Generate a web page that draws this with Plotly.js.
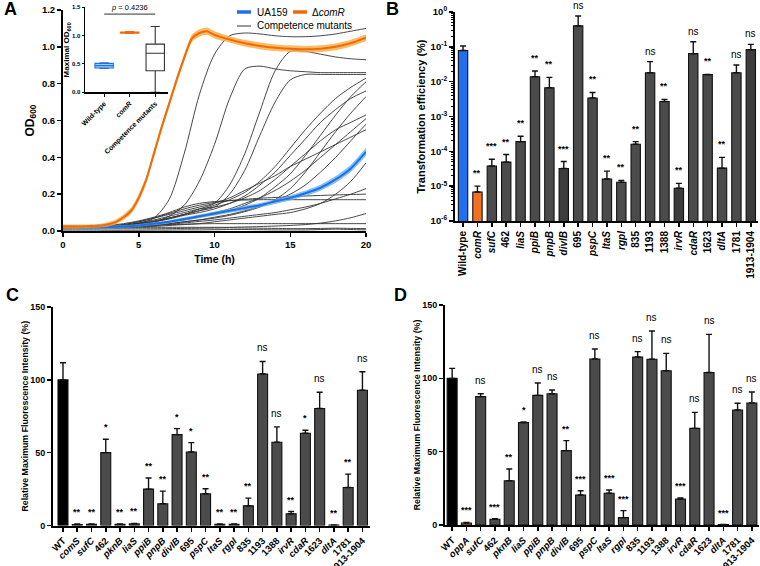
<!DOCTYPE html>
<html><head><meta charset="utf-8">
<script src="https://cdn.plot.ly/plotly-3.0.1.min.js"></script>
<style>html,body{margin:0;padding:0;background:#fff}#chart{width:760px;height:566px}</style>
</head><body><div id="chart"></div>
<script>
// ================= DATA =================
// ---- Panel A: growth curves ----
const timeHours = [0,1,2,3,4,5,6,7,8,9,10,11,12,13,14,15,16,17,18,19,20];
const mutant01 = [0.02,0.02,0.02,0.025,0.03,0.04,0.07,0.17,0.42,0.74,0.96,1.06,1.075,1.07,1.06,1.055,1.055,1.06,1.07,1.085,1.1];
const mutant02 = [0.02,0.02,0.02,0.025,0.03,0.04,0.05,0.08,0.14,0.27,0.47,0.72,0.88,0.895,0.88,0.87,0.865,0.86,0.86,0.86,0.86];
const mutant03 = [0.02,0.02,0.02,0.025,0.03,0.04,0.05,0.07,0.09,0.12,0.15,0.25,0.42,0.65,0.87,0.975,0.975,0.96,0.945,0.935,0.93];
const mutant04 = [0.02,0.02,0.02,0.025,0.03,0.04,0.05,0.07,0.09,0.11,0.13,0.2,0.33,0.52,0.7,0.82,0.85,0.85,0.85,0.85,0.85];
const mutant05 = [0.02,0.02,0.02,0.025,0.03,0.04,0.055,0.07,0.09,0.11,0.14,0.17,0.21,0.27,0.35,0.45,0.55,0.64,0.72,0.78,0.83];
const mutant06 = [0.02,0.02,0.02,0.022,0.025,0.03,0.04,0.05,0.06,0.075,0.09,0.11,0.14,0.18,0.24,0.31,0.41,0.52,0.63,0.73,0.81];
const mutant07 = [0.02,0.02,0.02,0.025,0.03,0.04,0.05,0.065,0.085,0.1,0.12,0.15,0.19,0.25,0.32,0.41,0.5,0.59,0.66,0.72,0.76];
const mutant08 = [0.02,0.02,0.02,0.02,0.022,0.025,0.03,0.04,0.05,0.06,0.07,0.085,0.105,0.13,0.17,0.23,0.32,0.43,0.54,0.64,0.73];
const mutant09 = [0.02,0.02,0.02,0.025,0.03,0.045,0.06,0.08,0.1,0.12,0.13,0.15,0.18,0.22,0.28,0.35,0.42,0.49,0.55,0.59,0.63];
const mutant10 = [0.02,0.02,0.02,0.022,0.026,0.032,0.04,0.05,0.065,0.08,0.1,0.12,0.15,0.18,0.22,0.27,0.33,0.4,0.47,0.54,0.61];
const mutant11 = [0.02,0.02,0.02,0.02,0.022,0.026,0.032,0.04,0.05,0.06,0.075,0.09,0.11,0.135,0.165,0.2,0.25,0.32,0.4,0.49,0.58];
const mutant12 = [0.02,0.02,0.02,0.025,0.035,0.05,0.07,0.09,0.11,0.13,0.15,0.18,0.22,0.26,0.3,0.35,0.39,0.43,0.47,0.51,0.55];
const mutant13 = [0.02,0.02,0.02,0.02,0.02,0.022,0.025,0.03,0.035,0.04,0.05,0.06,0.07,0.08,0.09,0.1,0.12,0.15,0.2,0.27,0.37];
const mutant14 = [0.02,0.02,0.02,0.02,0.022,0.025,0.03,0.036,0.044,0.052,0.06,0.07,0.08,0.09,0.1,0.115,0.13,0.15,0.175,0.2,0.23];
const mutant15 = [0.02,0.02,0.02,0.025,0.035,0.05,0.07,0.095,0.12,0.14,0.155,0.165,0.172,0.178,0.182,0.186,0.19,0.193,0.196,0.198,0.2];
const mutant16 = [0.02,0.02,0.022,0.03,0.04,0.055,0.075,0.1,0.13,0.15,0.16,0.165,0.168,0.17,0.17,0.17,0.17,0.17,0.17,0.17,0.17];
const mutant17 = [0.02,0.02,0.02,0.02,0.02,0.02,0.02,0.02,0.02,0.02,0.02,0.02,0.022,0.024,0.027,0.03,0.035,0.043,0.055,0.072,0.095];
const mutant18 = [0.02,0.02,0.02,0.022,0.025,0.028,0.031,0.034,0.037,0.039,0.04,0.04,0.04,0.04,0.04,0.04,0.04,0.04,0.04,0.04,0.04];
const mutant19 = [0.005,0.005,0.005,0.004,0.004,0.004,0.005,0.005,0.006,0.006,0.007,0.008,0.008,0.007,0.006,0.006,0.006,0.008,0.01,0.008,0.006];
const mutant20 = [0.012,0.012,0.012,0.012,0.012,0.012,0.012,0.013,0.014,0.015,0.016,0.017,0.016,0.015,0.014,0.013,0.013,0.014,0.015,0.014,0.013];
const ua159Mean = [0.025,0.022,0.02,0.022,0.025,0.03,0.04,0.05,0.065,0.08,0.095,0.11,0.125,0.14,0.16,0.18,0.205,0.235,0.28,0.34,0.43];
const ua159SD   = [0.008,0.008,0.008,0.008,0.008,0.008,0.009,0.009,0.01,0.01,0.011,0.011,0.012,0.012,0.013,0.014,0.015,0.016,0.018,0.02,0.022];
const timeComR  = [0,1,2,2.5,3,3.5,4,4.5,5,5.5,6,6.5,7,7.5,8,8.5,9,9.5,10,11,12,13,14,15,16,17,18,19,20];
const comRMean  = [0.025,0.025,0.027,0.03,0.037,0.05,0.075,0.11,0.18,0.28,0.42,0.56,0.69,0.82,0.94,1.045,1.075,1.085,1.065,1.04,1.02,1.005,0.995,0.99,0.987,0.99,1.0,1.02,1.05];
const comRSD    = [0.01,0.01,0.01,0.01,0.012,0.013,0.015,0.017,0.02,0.02,0.02,0.02,0.02,0.02,0.02,0.02,0.02,0.02,0.02,0.018,0.018,0.018,0.018,0.018,0.018,0.018,0.018,0.018,0.018];

// ---- Panel A inset: maximal OD600 ----
const insetGroups = ['Wild-type','comR','Competence mutants'];
const insetQ1     = [0.43, 1.045, 0.38];
const insetMedian = [0.47, 1.055, 0.69];
const insetQ3     = [0.51, 1.065, 0.85];
const insetLow    = [0.42, 1.04, 0.0];
const insetHigh   = [0.52, 1.07, 1.16];
const insetPText  = '<i>p</i> = 0.4236';

// ---- Panel B: transformation efficiency (%) ----
const bCategories = ['Wild-type','comR','sufC','462','liaS','ppiB','pnpB','divIB','695','pspC','ltaS','rgpI','835','1193','1388','irvR','cdaR','1623','dltA','1781','1913-1904'];
const bValues = [0.0785,6.8e-6,3.8e-5,4.9e-5,1.9e-4,0.0139,0.0067,3.2e-5,0.40,0.0034,1.6e-5,1.29e-5,1.6e-4,0.018,0.0027,8.7e-6,0.064,0.0159,3.3e-5,0.018,0.083];
const bErrTop = [0.106,1.0e-5,5.9e-5,8.1e-5,2.7e-4,0.0203,0.0133,5.1e-5,0.77,0.0049,2.7e-5,1.47e-5,1.9e-4,0.0375,0.0031,1.2e-5,0.14,0.0162,6.7e-5,0.030,0.118];
const bSig = ['','**','***','**','**','**','**','***','ns','**','**','**','**','ns','**','**','ns','**','**','ns','ns'];

// ---- Panel C ----
const cCategories = ['WT','comS','sufC','462','pknB','liaS','ppiB','pnpB','divIB','695','pspC','ltaS','rgpI','835','1193','1388','irvR','cdaR','1623','dltA','1781','1913-1904'];
const cValues = [100,0.7,0.8,50,0.8,1.1,25,14.9,62.4,50.5,21.8,0.8,0.8,13.5,104,57.1,8.0,63.3,80.3,0.3,26.1,92.9];
const cErrTop = [111.7,1.0,1.0,59.2,1.0,1.4,32.6,23.6,66.5,56.9,25.2,1.1,1.1,18.8,112.6,67.7,9.6,65.4,91.5,0.3,35.3,105.5];
const cSig = ['','**','**','*','**','**','**','**','*','*','**','**','**','**','ns','ns','**','*','ns','**','**','ns'];

// ---- Panel D ----
const dCategories = ['WT','oppA','sufC','462','pknB','liaS','ppiB','pnpB','divIB','695','pspC','ltaS','rgpI','835','1193','1388','irvR','cdaR','1623','dltA','1781','1913-1904'];
const dValues = [100,1.4,87.5,3.9,30.2,69.8,88.4,89.5,50.7,20.5,113.2,21.6,5.0,114.5,113,105.2,17.7,65.9,104,0.3,78.4,83.2];
const dErrTop = [106.8,1.8,89.5,4.3,38.2,70.2,96.8,92,57.5,23.4,120,23.9,9.8,118.2,132.3,117,18.4,76.8,130,0.3,83,90.7];
const dSig = ['','***','ns','***','**','*','ns','ns','**','***','ns','***','***','ns','ns','ns','***','ns','ns','***','ns','ns'];

// ================= STYLE / LAYOUT =================
const W = 760, H = 566;
const F = 'Liberation Sans, Arial, Helvetica, sans-serif';
const px = x => x / W;
const py = y => 1 - y / H;
const dx = (a, b) => [a / W, b / W];
const dy = (top, bottom) => [1 - bottom / H, 1 - top / H];
const fmt = s => /^[a-z]/.test(s) ? '<i>' + s + '</i>' : s;

const GRAY = '#333333', BLUE = '#1f6fe6', BLUE_BAND = 'rgba(90,175,240,0.75)';
const ORANGE = '#f06a0c', ORANGE_BAND = 'rgba(250,170,60,0.8)';

const grayCurves = [mutant01,mutant02,mutant03,mutant04,mutant05,mutant06,mutant07,mutant08,mutant09,mutant10,
  mutant11,mutant12,mutant13,mutant14,mutant15,mutant16,mutant17,mutant18,mutant19,mutant20];

const traces = [];
grayCurves.forEach(c => traces.push({
  type:'scatter', mode:'lines', x: timeHours, y: c, xaxis:'x', yaxis:'y',
  line:{color:GRAY, width:0.9, shape:'spline', smoothing:0.8}, showlegend:false, hoverinfo:'skip'
}));
function band(t, m, s, fill, lineColor) {
  traces.push({type:'scatter', mode:'lines', x:t, y:m.map((v,i)=>v - s[i]), xaxis:'x', yaxis:'y',
    line:{width:0, color:fill, shape:'spline', smoothing:0.6}, showlegend:false, hoverinfo:'skip'});
  traces.push({type:'scatter', mode:'lines', x:t, y:m.map((v,i)=>v + s[i]), xaxis:'x', yaxis:'y',
    fill:'tonexty', fillcolor:fill, line:{width:0, color:fill, shape:'spline', smoothing:0.6}, showlegend:false, hoverinfo:'skip'});
  traces.push({type:'scatter', mode:'lines', x:t, y:m, xaxis:'x', yaxis:'y',
    line:{width:2, color:lineColor, shape:'spline', smoothing:0.6}, showlegend:false, hoverinfo:'skip'});
}
band(timeHours, ua159Mean, ua159SD, BLUE_BAND, BLUE);
band(timeComR, comRMean, comRSD, ORANGE_BAND, ORANGE);

// inset boxes
const insetFill = ['#9fcdf6', '#f7a25a', '#ffffff'];
const insetLine = [BLUE, ORANGE, '#333333'];
insetGroups.forEach((g, i) => traces.push({
  type:'box', x:[g], q1:[insetQ1[i]], median:[insetMedian[i]], q3:[insetQ3[i]],
  lowerfence:[insetLow[i]], upperfence:[insetHigh[i]], xaxis:'x2', yaxis:'y2',
  fillcolor: insetFill[i], line:{color: insetLine[i], width:1.1}, width:0.72, whiskerwidth:0.5,
  boxpoints:false, showlegend:false, hoverinfo:'skip'
}));

// bar helper
function barColor(cat, panel) {
  if (cat === 'Wild-type') return '#1f6ff0';
  if (cat === 'WT') return '#000000';
  if (cat === 'comR') return '#f36f21';
  if (cat === 'comS') return '#6e3a22';
  if (cat === 'oppA') return '#c8733a';
  if (panel === 'B' && (cat === 'divIB' || cat === 'irvR' || cat === '1913-1904')) return '#3c3c3c';
  return '#4b4b4b';
}
function barTrace(cats, vals, tops, xa, ya, panel, width) {
  return {
    type:'bar', x: cats.map((c,i)=>i), y: vals, xaxis:xa, yaxis:ya, width: width,
    marker:{color: cats.map(c=>barColor(c, panel)), line:{color:'#111', width:1.1}},
    error_y:{type:'data', symmetric:false, array: tops.map((t,i)=>Math.max(0, t - vals[i])),
      arrayminus: vals.map(()=>0), color:'#111', thickness:1.4, width:3},
    showlegend:false, hoverinfo:'skip'
  };
}
traces.push(barTrace(bCategories, bValues, bErrTop, 'x3', 'y3', 'B', 0.65));
traces.push(barTrace(cCategories, cValues, cErrTop, 'x4', 'y4', 'C', 0.7));
traces.push(barTrace(dCategories, dValues, dErrTop, 'x5', 'y5', 'D', 0.7));

// axes
const tf = (s) => ({family:F, size:s, color:'#000', weight:'bold'});
const axBase = () => ({showgrid:false, zeroline:false, showline:true, linecolor:'#000', linewidth:2,
  ticks:'outside', ticklen:4, tickwidth:1.5, tickcolor:'#000', tickfont: tf(9.5), fixedrange:true});

const minorLog = [];
for (let k = -6; k < 0; k++) for (let m = 2; m <= 9; m++) minorLog.push(m * Math.pow(10, k));

const layout = {
  width:W, height:H, margin:{l:0,r:0,t:0,b:0}, paper_bgcolor:'#fff', plot_bgcolor:'rgba(0,0,0,0)',
  showlegend:false, hovermode:false, font:{family:F, color:'#000'},
  xaxis: Object.assign(axBase(), {domain:dx(63,366), anchor:'y', range:[0,20], tickvals:[0,5,10,15,20],
    title:{text:'Time (h)', font:tf(10.5), standoff:6}}),
  yaxis: Object.assign(axBase(), {domain:dy(10,231), anchor:'x', range:[0,1.2], tickvals:[0,0.2,0.4,0.6,0.8,1.0,1.2],
    tickformat:'.1f', title:{text:'OD<sub>600</sub>', font:tf(12), standoff:5}}),
  xaxis2: Object.assign(axBase(), {domain:dx(85,168), anchor:'y2', type:'category', range:[-0.75,2.5],
    tickmode:'array', tickvals:insetGroups, ticktext:insetGroups.map(fmt), tickangle:-45, tickfont:tf(7),
    linewidth:1.5, ticklen:3, tickwidth:1}),
  yaxis2: Object.assign(axBase(), {domain:dy(7.3,92.3), anchor:'x2', range:[0,1.5], tickvals:[0,0.5,1.0,1.5],
    tickformat:'.1f', tickfont:tf(6), linewidth:1.5, ticklen:2, tickwidth:1,
    title:{text:'Maximal OD<sub>600</sub>', font:tf(8), standoff:1}}),
  xaxis3: Object.assign(axBase(), {domain:dx(455,758), anchor:'y3', range:[-0.56,20.5],
    tickmode:'array', tickvals:bCategories.map((c,i)=>i), ticktext:bCategories.map(fmt), tickangle:-90, tickfont:tf(10)}),
  yaxis3: Object.assign(axBase(), {domain:dy(12,221), anchor:'x3', type:'log', range:[-6,0],
    tickmode:'array', tickvals:[1e-6,1e-5,1e-4,1e-3,1e-2,1e-1,1],
    ticktext:['10<sup>-6</sup>','10<sup>-5</sup>','10<sup>-4</sup>','10<sup>-3</sup>','10<sup>-2</sup>','10<sup>-1</sup>','10<sup>0</sup>'],
    minor:{tickmode:'array', tickvals:minorLog, ticks:'outside', ticklen:2, tickwidth:1, tickcolor:'#000'},
    title:{text:'Transformation efficiency (%)', font:tf(11), standoff:3}}),
  xaxis4: Object.assign(axBase(), {domain:dx(53,370), anchor:'y4', range:[-0.7,21.53],
    tickmode:'array', tickvals:cCategories.map((c,i)=>i), ticktext:cCategories.map(fmt), tickangle:-45, tickfont:tf(9.5)}),
  yaxis4: Object.assign(axBase(), {domain:dy(307,525.5), anchor:'x4', range:[0,150], tickvals:[0,50,100,150], tickfont:tf(9),
    title:{text:'Relative Maximum Fluorescence Intensity (%)', font:tf(8.8), standoff:0}}),
  xaxis5: Object.assign(axBase(), {domain:dx(445,759), anchor:'y5', range:[-0.5,21.5],
    tickmode:'array', tickvals:dCategories.map((c,i)=>i), ticktext:dCategories.map(fmt), tickangle:-45, tickfont:tf(9.5)}),
  yaxis5: Object.assign(axBase(), {domain:dy(305,525), anchor:'x5', range:[0,150], tickvals:[0,50,100,150], tickfont:tf(9),
    title:{text:'Relative Maximum Fluorescence Intensity (%)', font:tf(8.8), standoff:0}}),
  shapes: [], annotations: []
};

// panel letters
[['A',10,9],['B',392,9],['C',12,295],['D',400,295]].forEach(([t,x,y]) => layout.annotations.push({
  text:t, x:px(x), y:py(y), xref:'paper', yref:'paper', showarrow:false, xanchor:'center', yanchor:'middle',
  font:{family:F, size:18, weight:'bold', color:'#000'}}));

// panel A legend (manual)
const legItems = [
  {label:'UA159', color:BLUE, w:3.5, x0:237, x1:251, y:12, tx:255},
  {label:'Δ<i>comR</i>', color:ORANGE, w:3.5, x0:293, x1:307, y:12, tx:310},
  {label:'Competence mutants', color:GRAY, w:1, x0:237, x1:251, y:26, tx:255}
];
legItems.forEach(it => {
  layout.shapes.push({type:'line', xref:'paper', yref:'paper', x0:px(it.x0), x1:px(it.x1), y0:py(it.y), y1:py(it.y),
    line:{color:it.color, width:it.w}});
  layout.annotations.push({text:it.label, xref:'paper', yref:'paper', x:px(it.tx), y:py(it.y), xanchor:'left',
    yanchor:'middle', showarrow:false, font:{family:F, size:10, color:'#000'}});
});

// inset p-value bracket
layout.shapes.push({type:'line', xref:'x2', yref:'y2', x0:0, x1:2, y0:1.38, y1:1.38, line:{color:'#333', width:1}});
layout.annotations.push({text:insetPText, xref:'x2', yref:'y2', x:1, y:1.38, yanchor:'bottom', yshift:0,
  showarrow:false, font:{family:F, size:7.5, color:'#000'}});

// significance labels
function sigLabels(sig, vals, tops, xa, ya, isLog, starShift, nsShift) {
  sig.forEach((s, i) => {
    if (!s) return;
    const top = Math.max(vals[i], tops[i]);
    layout.annotations.push({text:s, xref:xa, yref:ya, x:i, y: isLog ? Math.log10(top) : top,
      yanchor:'bottom', yshift: s === 'ns' ? nsShift : starShift, showarrow:false,
      font: s === 'ns' ? {family:F, size:10, color:'#000'} : {family:F, size:9, color:'#000', weight:'bold'}});
  });
}
sigLabels(bSig, bValues, bErrTop, 'x3', 'y3', true, 6, 3);
sigLabels(cSig, cValues, cErrTop, 'x4', 'y4', false, 5, 6);
sigLabels(dSig, dValues, dErrTop, 'x5', 'y5', false, 5, 6);

Plotly.newPlot('chart', traces, layout, {staticPlot:true, displayModeBar:false});
</script></body></html>
